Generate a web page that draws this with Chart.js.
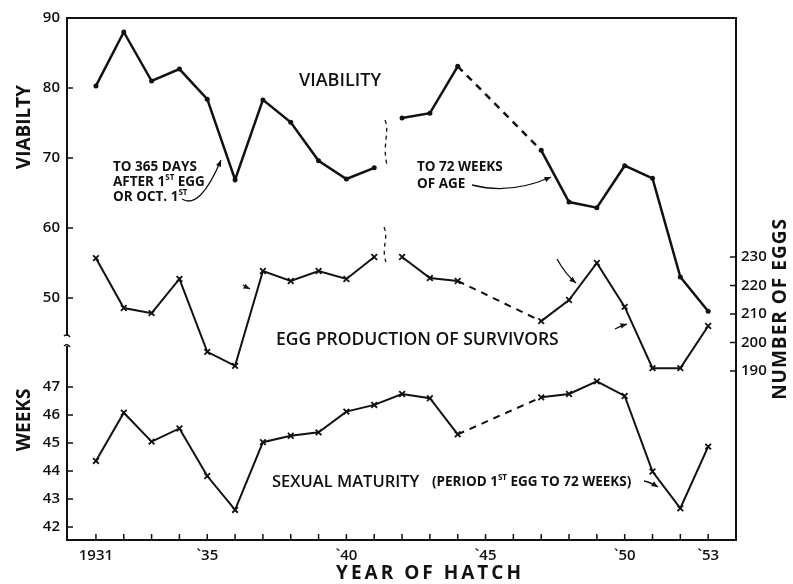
<!DOCTYPE html>
<html>
<head>
<meta charset="utf-8">
<script src="https://cdn.jsdelivr.net/npm/chart.js@4/dist/chart.umd.min.js"></script>
<style>body{margin:0;background:#fff}</style>
</head>
<body>
<canvas id="c" width="793" height="584"></canvas>
<script>
// years with data (1945 and 1946 are bridged with a dashed line)
const years = [1931, 1932, 1933, 1934, 1935, 1936, 1937, 1938, 1939, 1940, 1941,
               1942, 1943, 1944, 1947, 1948, 1949, 1950, 1951, 1952, 1953];
const viability = [80.3, 88.0, 81.0, 82.7, 78.4, 66.9, 78.3, 75.1, 69.6, 67.0, 68.6,
                   75.7, 76.4, 83.1, 71.1, 63.7, 62.9, 68.9, 67.1, 53.0, 48.1];
const eggs = [229.6, 212.1, 210.3, 222.3, 196.7, 191.8, 225.1, 221.6, 225.1, 222.3, 230.0,
              230.0, 222.6, 221.6, 207.5, 214.9, 227.9, 212.5, 191.0, 191.0, 205.8];
const weeks = [44.36, 46.08, 45.05, 45.52, 43.82, 42.61, 45.03, 45.26, 45.38, 46.12, 46.36,
               46.75, 46.60, 45.31, 46.63, 46.75, 47.20, 46.68, 43.98, 42.67, 44.87];

const labelYears = [1931, 1935, 1940, 1945, 1950, 1953];
const labelText = ['1931', '`35', '`40', '`45', '`50', '`53'];
const viabilityTicks = [50, 60, 70, 80, 90];
const weekTicks = [42, 43, 44, 45, 46, 47];
const eggTicks = [190, 200, 210, 220, 230];

const dashedFrom = 1944;  // segment 1944 -> 1947 is dashed
const gapFrom = 1941;     // break in the record between 1941 and 1942

const ink = '#111';
const fam = '"Open Sans", "DejaVu Sans", sans-serif';

const tickYears = [];
for (let y = 1931; y <= 1953; y++) tickYears.push(y);

function setTicks(list) {
    return s => { s.ticks = list.map(v => ({value: v})); };
}

const dashSeg = ctx => ctx.p0.parsed.x === dashedFrom ? [7, 6] : undefined;
const gapSeg = ctx => ctx.p0.parsed.x === gapFrom ? 'rgba(0,0,0,0)' : undefined;

function pts(vals) {
    return years.map((x, i) => ({x: x, y: vals[i]}));
}

const tickFont = {family: fam, size: 15, weight: '600'};

function leftAxis(min, max, weight, list) {
    return {
        type: 'linear', position: 'left', stack: 'left', stackWeight: weight,
        min: min, max: max,
        afterFit: s => { s.width = 67; },
        afterBuildTicks: setTicks(list),
        ticks: {padding: 7, color: ink, font: tickFont},
        grid: {drawOnChartArea: false, drawTicks: false},
        border: {color: ink, width: 2}
    };
}

function arrowHead(ctx, x, y, ang) {
    ctx.beginPath();
    ctx.moveTo(x, y);
    ctx.lineTo(x - 7 * Math.cos(ang - 0.4), y - 7 * Math.sin(ang - 0.4));
    ctx.lineTo(x - 7 * Math.cos(ang + 0.4), y - 7 * Math.sin(ang + 0.4));
    ctx.closePath();
    ctx.fill();
}

function curve(ctx, x0, y0, cx, cy, x1, y1, head) {
    ctx.beginPath();
    ctx.moveTo(x0, y0);
    ctx.quadraticCurveTo(cx, cy, x1, y1);
    ctx.stroke();
    if (head) arrowHead(ctx, x1, y1, Math.atan2(y1 - cy, x1 - cx));
}

// text with small raised parts, e.g. 1ST
function rich(ctx, parts, x, y, size, weight) {
    let cx = x;
    for (const [txt, sup] of parts) {
        ctx.font = weight + ' ' + (sup ? Math.round(size * 0.6) : size) + 'px ' + fam;
        ctx.fillText(txt, cx, sup ? y - size * 0.3 : y);
        cx += ctx.measureText(txt).width;
    }
    return cx;
}

// short tick marks pointing into the plot
function innerTicks(ctx, chart) {
    const a = chart.chartArea;
    ctx.lineWidth = 1.5;
    ctx.beginPath();
    for (const t of chart.scales.x.ticks) {
        const px = chart.scales.x.getPixelForValue(t.value);
        ctx.moveTo(px, a.bottom); ctx.lineTo(px, a.bottom - 6);
    }
    for (const id of ['yV', 'yW']) {
        for (const t of chart.scales[id].ticks) {
            const py = chart.scales[id].getPixelForValue(t.value);
            ctx.moveTo(a.left, py); ctx.lineTo(a.left + 6, py);
        }
    }
    for (const t of chart.scales.yE.ticks) {
        const py = chart.scales.yE.getPixelForValue(t.value);
        ctx.moveTo(a.right, py); ctx.lineTo(a.right - 6, py);
    }
    ctx.stroke();
}

const decor = {
    id: 'decor',
    afterDraw(chart) {
        const ctx = chart.ctx;
        ctx.save();
        ctx.fillStyle = ink;
        ctx.strokeStyle = ink;
        innerTicks(ctx, chart);
        ctx.textAlign = 'center';
        ctx.textBaseline = 'middle';

        // axis titles
        ctx.font = 'bold 19px ' + fam;
        ctx.save(); ctx.translate(25, 127); ctx.rotate(-Math.PI / 2);
        ctx.fillText('VIABILTY', 0, 0); ctx.restore();
        ctx.save(); ctx.translate(25, 420); ctx.rotate(-Math.PI / 2);
        ctx.fillText('WEEKS', 0, 0); ctx.restore();
        ctx.save(); ctx.translate(781, 309); ctx.rotate(-Math.PI / 2);
        ctx.letterSpacing = '1px';
        ctx.fillText('NUMBER OF EGGS', 0, 0); ctx.restore();
        ctx.save();
        ctx.font = 'bold 19px ' + fam;
        ctx.letterSpacing = '3px';
        ctx.fillText('YEAR OF HATCH', 430, 574);
        ctx.restore();

        // series names
        ctx.font = '600 18px ' + fam;
        ctx.fillText('VIABILITY', 340, 81);
        ctx.textAlign = 'left';
        ctx.font = '600 17.5px ' + fam;
        ctx.fillText('EGG PRODUCTION OF SURVIVORS', 276, 340);
        ctx.font = '600 16.5px ' + fam;
        ctx.fillText('SEXUAL MATURITY', 272, 482);
        rich(ctx, [['(PERIOD 1', false], ['ST', true], [' EGG TO 72 WEEKS)', false]], 432, 482, 13.5, 'bold');

        // footnotes
        rich(ctx, [['TO 365 DAYS', false]], 113, 167, 13.5, 'bold');
        rich(ctx, [['AFTER 1', false], ['ST', true], [' EGG', false]], 113, 182, 13.5, 'bold');
        rich(ctx, [['OR OCT. 1', false], ['ST', true]], 113, 197, 13.5, 'bold');
        rich(ctx, [['TO 72 WEEKS', false]], 417, 167, 13.5, 'bold');
        rich(ctx, [['OF AGE', false]], 417, 184, 13.5, 'bold');

        // pointer arrows
        ctx.lineWidth = 1.3;
        curve(ctx, 182, 199, 200, 210, 221, 160, true);
        curve(ctx, 472, 185, 510, 195, 551, 177, true);
        curve(ctx, 557, 259, 566, 275, 576, 283, true);
        curve(ctx, 615, 329, 620, 326, 627, 324, true);
        curve(ctx, 644, 481, 650, 482, 658, 487, true);
        curve(ctx, 243, 285, 246, 287, 250, 289, true);

        // break in the left axis
        ctx.fillStyle = '#fff';
        ctx.fillRect(62, 336, 10, 10);
        ctx.lineWidth = 1.5;
        ctx.beginPath();
        ctx.moveTo(64, 336); ctx.quadraticCurveTo(67, 333, 70, 337);
        ctx.moveTo(64, 346); ctx.quadraticCurveTo(67, 343, 70, 347);
        ctx.stroke();

        // break marks between 1941 and 1942
        ctx.setLineDash([4, 4]);
        ctx.lineWidth = 1.3;
        ctx.beginPath();
        ctx.moveTo(385, 120); ctx.bezierCurveTo(390, 132, 382, 144, 387, 165);
        ctx.moveTo(384, 227); ctx.bezierCurveTo(389, 238, 381, 248, 386, 262);
        ctx.stroke();
        ctx.restore();
    }
};

new Chart(document.getElementById('c'), {
    type: 'line',
    data: {
        datasets: [
            {
                label: 'Viability', data: pts(viability), yAxisID: 'yV',
                borderColor: ink, borderWidth: 2.5, tension: 0,
                pointRadius: 2.5, pointBackgroundColor: ink, pointBorderWidth: 0,
                segment: {borderDash: dashSeg, borderColor: gapSeg}
            },
            {
                label: 'Egg production', data: pts(eggs), yAxisID: 'yE',
                borderColor: ink, borderWidth: 2, tension: 0,
                pointStyle: 'crossRot', pointRadius: 4, pointBorderWidth: 1.8,
                segment: {borderDash: dashSeg, borderColor: gapSeg}
            },
            {
                label: 'Sexual maturity', data: pts(weeks), yAxisID: 'yW',
                borderColor: ink, borderWidth: 2, tension: 0,
                pointStyle: 'crossRot', pointRadius: 4, pointBorderWidth: 1.8,
                segment: {borderDash: dashSeg}
            }
        ]
    },
    options: {
        responsive: false,
        animation: false,
        devicePixelRatio: 1,
        layout: {padding: 0},
        plugins: {legend: {display: false}, tooltip: {enabled: false}},
        scales: {
            x: {
                type: 'linear', position: 'bottom', min: 1929.96, max: 1954.0,
                afterFit: s => { s.height = 44; },
                afterBuildTicks: setTicks(tickYears),
                ticks: {
                    autoSkip: false, maxRotation: 0, padding: 7, color: ink, font: tickFont,
                    callback: v => {
                        const i = labelYears.indexOf(v);
                        return i < 0 ? '' : labelText[i];
                    }
                },
                grid: {drawOnChartArea: false, drawTicks: false},
                border: {color: ink, width: 2}
            },
            x2: {
                type: 'linear', position: 'top', min: 1929.96, max: 1954.0,
                afterFit: s => { s.height = 18; },
                ticks: {display: false},
                grid: {display: false},
                border: {color: ink, width: 2}
            },
            yW: leftAxis(41.536, 48.571, 197, weekTicks),
            yV: leftAxis(43.571, 90, 325, viabilityTicks),
            yE: {
                type: 'linear', position: 'right', min: 130.70, max: 313.86,
                afterFit: s => { s.width = 57; },
                afterBuildTicks: setTicks(eggTicks),
                ticks: {padding: 5, color: ink, font: tickFont},
                grid: {drawOnChartArea: false, drawTicks: false},
                border: {color: ink, width: 2}
            }
        }
    },
    plugins: [decor]
});
</script>
</body>
</html>
